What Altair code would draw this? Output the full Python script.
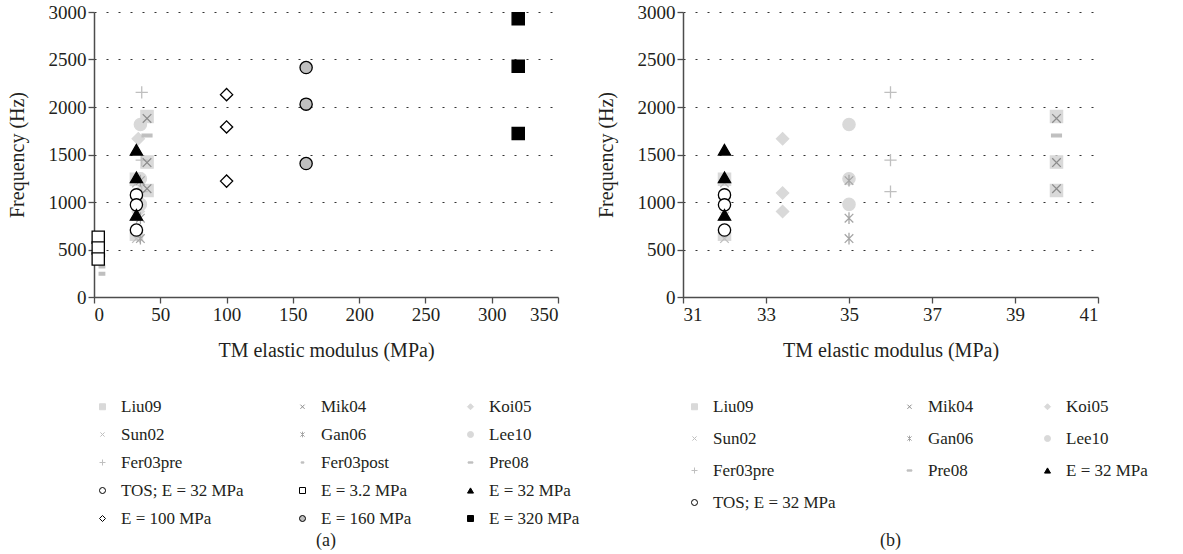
import altair as alt
import pandas as pd

# ---------------- data ----------------
liu09_x = [32, 32, 40, 40, 40]
liu09_y = [1240, 660, 1900, 1420, 1120]
sun02_x = [32, 32, 32]
sun02_y = [1200, 850, 615]
koi05_x = [33.4, 33.4, 33.4]
koi05_y = [1665, 1095, 900]
lee10_x = [35, 35, 35]
lee10_y = [1815, 1245, 975]
gan06_x = [35, 35, 35]
gan06_y = [1225, 830, 615]
fer03pre_x = [36, 36, 36]
fer03pre_y = [2155, 1440, 1110]
fer03post_x = [6, 6, 6]
fer03post_y = [440, 320, 245]
pre08_x = [40]
pre08_y = [1700]
mik04_x = [40, 40, 40]
mik04_y = [1880, 1415, 1140]
e3_2_x = [3.2, 3.2, 3.2]
e3_2_y = [630, 515, 400]
e100_x = [100, 100, 100]
e100_y = [2130, 1790, 1220]
e160_x = [160, 160, 160]
e160_y = [2415, 2030, 1405]
e320_x = [320, 320, 320]
e320_y = [2930, 2430, 1720]
tos_x = [32, 32, 32]
tos_y = [1075, 970, 705]
e32_x = [32, 32, 32]
e32_y = [1550, 1260, 865]

# drawing order (background grey series first)
draw_order = [
    ("Liu09", liu09_x, liu09_y),
    ("Sun02", sun02_x, sun02_y),
    ("Koi05", koi05_x, koi05_y),
    ("Lee10", lee10_x, lee10_y),
    ("Gan06", gan06_x, gan06_y),
    ("Fer03pre", fer03pre_x, fer03pre_y),
    ("Fer03post", fer03post_x, fer03post_y),
    ("Pre08", pre08_x, pre08_y),
    ("Mik04", mik04_x, mik04_y),
    ("E = 3.2 MPa", e3_2_x, e3_2_y),
    ("E = 100 MPa", e100_x, e100_y),
    ("E = 160 MPa", e160_x, e160_y),
    ("E = 320 MPa", e320_x, e320_y),
    ("TOS; E = 32 MPa", tos_x, tos_y),
    ("E = 32 MPa", e32_x, e32_y),
]

rows = []
for name, xs, ys in draw_order:
    for xv, yv in zip(xs, ys):
        rows.append({"series": name, "E": xv, "f": yv})
df = pd.DataFrame(rows)

legend_a = ["Liu09", "Mik04", "Koi05", "Sun02", "Gan06", "Lee10",
            "Fer03pre", "Fer03post", "Pre08", "TOS; E = 32 MPa", "E = 3.2 MPa",
            "E = 32 MPa", "E = 100 MPa", "E = 160 MPa", "E = 320 MPa"]
legend_b = ["Liu09", "Mik04", "Koi05", "Sun02", "Gan06", "Lee10",
            "Fer03pre", "Pre08", "E = 32 MPa", "TOS; E = 32 MPa"]

# ---------------- styles ----------------
X_CROSS = "M-0.7,-0.7L0.7,0.7M-0.7,0.7L0.7,-0.7"
STAR = "M-0.7,-0.7L0.7,0.7M-0.7,0.7L0.7,-0.7M0,-0.95L0,0.95"
PLUS = "M-1,0L1,0M0,-1L0,1"
SHORT_DASH = "M-0.45,-0.22H0.45V0.22H-0.45Z"
LONG_DASH = "M-0.8,-0.22H0.8V0.22H-0.8Z"

style = {
    "Liu09": ("square", "#d9d9d9", "#d9d9d9"),
    "Mik04": (X_CROSS, "transparent", "#8c8c8c"),
    "Koi05": ("diamond", "#d9d9d9", "#d9d9d9"),
    "Sun02": (X_CROSS, "transparent", "#bfbfbf"),
    "Gan06": (STAR, "transparent", "#a6a6a6"),
    "Lee10": ("circle", "#d9d9d9", "#d9d9d9"),
    "Fer03pre": (PLUS, "transparent", "#bfbfbf"),
    "Fer03post": (SHORT_DASH, "#bfbfbf", "#bfbfbf"),
    "Pre08": (LONG_DASH, "#bfbfbf", "#bfbfbf"),
    "TOS; E = 32 MPa": ("circle", "#ffffff", "#000000"),
    "E = 3.2 MPa": ("square", "#ffffff", "#000000"),
    "E = 32 MPa": ("triangle-up", "#000000", "#000000"),
    "E = 100 MPa": ("diamond", "#ffffff", "#000000"),
    "E = 160 MPa": ("circle", "#bfbfbf", "#000000"),
    "E = 320 MPa": ("square", "#000000", "#000000"),
}

FONT = "Liberation Serif"
TXT = "#231f20"
AX = dict(labelFont=FONT, labelFontSize=19, labelColor=TXT,
          titleFont=FONT, titleFontSize=20, titleFontWeight="normal", titleColor=TXT,
          domainColor="#4d4d4d", domainWidth=1.5, tickColor="#4d4d4d",
          tickWidth=1.3, tickSize=6)


def panel(data, domain, x_scale, x_values, width, caption, legend_x, legend_y,
          col_pad, row_pad, cap_offset):
    leg = alt.Legend(orient="none", legendX=legend_x, legendY=legend_y,
                     columns=3, direction="horizontal", title=None, gridAlign="each",
                     columnPadding=col_pad, rowPadding=row_pad,
                     symbolSize=36, symbolStrokeWidth=1,
                     labelFont=FONT, labelFontSize=17, labelColor=TXT,
                     labelOffset=10)
    shapes = [style[s][0] for s in domain]
    fills = [style[s][1] for s in domain]
    strokes = [style[s][2] for s in domain]
    return alt.Chart(data).mark_point(size=150, strokeWidth=1.3, opacity=1).encode(
        x=alt.X("E:Q", scale=x_scale,
                axis=alt.Axis(values=x_values, title="TM elastic modulus (MPa)",
                              grid=False, titlePadding=16, labelPadding=2,
                              format="d", **AX)),
        y=alt.Y("f:Q", scale=alt.Scale(domain=[0, 3000], nice=False),
                axis=alt.Axis(values=[0, 500, 1000, 1500, 2000, 2500, 3000],
                              title="Frequency (Hz)", grid=True, format="d",
                              gridDash=[2, 10], gridColor="#333333",
                              gridWidth=1.2, titlePadding=21, labelPadding=2, **AX)),
        shape=alt.Shape("series:N", scale=alt.Scale(domain=domain, range=shapes), legend=leg),
        fill=alt.Fill("series:N", scale=alt.Scale(domain=domain, range=fills), legend=leg),
        stroke=alt.Stroke("series:N", scale=alt.Scale(domain=domain, range=strokes), legend=leg),
    ).properties(
        width=width, height=285,
        title=alt.TitleParams(caption, orient="bottom", anchor="middle", font=FONT,
                              fontSize=18, fontWeight="normal", color=TXT,
                              offset=cap_offset),
    )


df_a = df[df["series"].isin(legend_a)]
df_b = df[df["series"].isin(legend_b) & (df["E"] >= 31) & (df["E"] <= 41)]

chart_a = panel(df_a, legend_a, alt.Scale(domain=[0, 350], nice=False),
                [0, 50, 100, 150, 200, 250, 300, 350], 464, "(a)", 0, 386, 50, 10, 5)
chart_b = panel(df_b, legend_b, alt.Scale(domain=[31, 41], nice=False),
                [31, 33, 35, 37, 39, 41], 415, "(b)", 3, 386, 65, 14, 21)

chart = alt.hconcat(chart_a, chart_b, spacing=16).resolve_scale(
    shape="independent", fill="independent", stroke="independent"
).resolve_legend(
    shape="independent", fill="independent", stroke="independent"
).properties(
    padding={"left": 7, "top": 3, "right": 5, "bottom": 5}
).configure_view(stroke=None)

chart.save("out.html", embed_options={"renderer": "svg", "actions": False})
